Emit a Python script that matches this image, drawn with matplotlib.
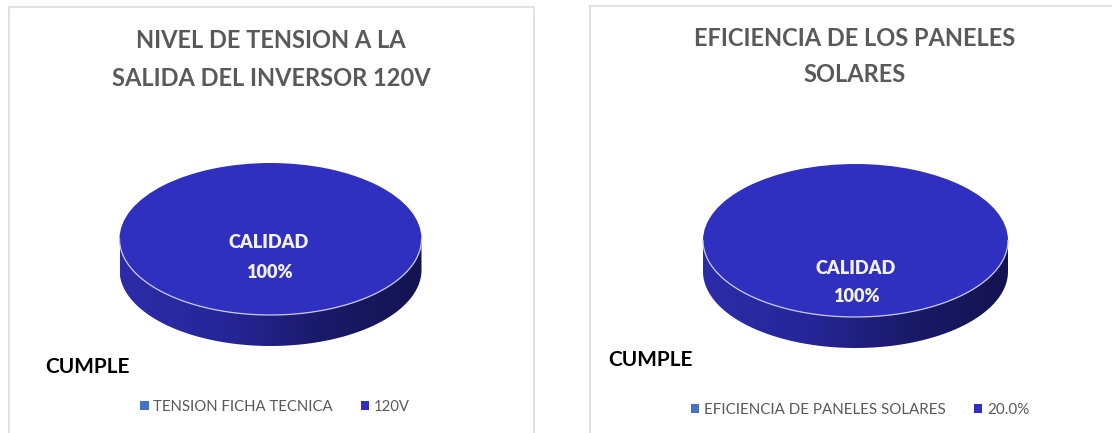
import matplotlib
matplotlib.use("Agg")
import matplotlib.pyplot as plt
import numpy as np
from matplotlib.patches import Rectangle, Polygon

W, H = 1112, 433
plt.rcParams['font.family'] = ['Lato', 'DejaVu Sans']

#data for both pies
titles = ["NIVEL DE TENSION A LA\nSALIDA DEL INVERSOR 120V", "EFICIENCIA DE LOS PANELES\nSOLARES"]
legend_labels = [["TENSION FICHA TECNICA", "120V"], ["EFICIENCIA DE PANELES SOLARES", "20.0%"]]
values = [[0, 100], [0, 100]]
data_labels = ["CALIDAD", "100%"]
note = "CUMPLE"

colors = ["#4472c4", "#3030c0"]

#pixel layout of each panel
panels = [
    dict(box=(9, 7, 534), c=(270.5, 239), r=(151, 76), depth=31, title_x=271, title_y=(41, 78),
         lab_x=269, lab_y=(242, 272), note_xy=(45, 367), leg_y=407, leg_x=275, leg_fs=10.7),
    dict(box=(590, 6, 1125), c=(855.5, 240.5), r=(152.5, 76.5), depth=31, title_x=855, title_y=(39, 74),
         lab_x=856, lab_y=(269, 297), note_xy=(608, 360), leg_y=410, leg_x=860, leg_fs=10.9),
]

fig = plt.figure(figsize=(W / 100, H / 100), dpi=100)


def fx(x):
    return x / W


def fy(y):
    return 1 - y / H


def draw_panel(p, title, labels, vals):
    #panel border
    x0, y0, x1 = p["box"]
    fig.add_artist(Rectangle((fx(x0), fy(H + 5)), fx(x1 - x0), (H + 5 - y0) / H, transform=fig.transFigure,
                             fill=False, ec="#e2e2e2", lw=1.5))

    cx, cy = p["c"]
    rx, ry = p["r"]
    depth = p["depth"]
    #axes box also holds the side of the disc
    ax = fig.add_axes([fx(cx - rx), fy(cy + ry + depth), 2 * rx / W, (2 * ry + depth) / H])
    wedges, _ = ax.pie(vals, colors=colors, radius=1, center=(0, 0),
                       wedgeprops=dict(ec="none"), startangle=90)
    for w in wedges:
        w.set_zorder(3)

    #side of the disc with a horizontal gradient
    d = depth / ry
    t = np.linspace(np.pi, 2 * np.pi, 120)
    xs = np.cos(t)
    ys = np.sin(t)
    side = Polygon(np.r_[np.c_[xs, ys - d], np.c_[xs[::-1], ys[::-1]]], closed=True,
                   transform=ax.transData, fc="none", ec="none")
    ax.add_patch(side)
    cmap = matplotlib.colors.LinearSegmentedColormap.from_list(
        "side", ["#2c2ca8", "#26269a", "#1a1a6a", "#131350"])
    im = ax.imshow(np.linspace(0, 1, 256)[None, :], cmap=cmap, extent=(-1, 1, -1 - d, 0), aspect="auto",
                   zorder=1)
    im.set_clip_path(side)
    ax.plot(xs, ys, color="#c9c9e8", lw=0.9, zorder=4, clip_on=False)
    ax.set_aspect("auto")
    ax.set_xlim(-1, 1)
    ax.set_ylim(-1 - d, 1)
    ax.axis("off")

    #title
    for line, y in zip(title.split("\n"), p["title_y"]):
        fig.text(fx(p["title_x"]), fy(y), line, ha="center", va="center", fontsize=17,
                 fontweight="bold", color="#595959")

    #data label
    for txt, y in zip(data_labels, p["lab_y"]):
        fig.text(fx(p["lab_x"]), fy(y), txt, ha="center", va="center", fontsize=13.1,
                 fontweight="heavy", color="#f2f2f2", zorder=10)

    #note
    fig.text(fx(p["note_xy"][0]), fy(p["note_xy"][1]), note, ha="left", va="center", fontsize=15,
             fontweight="bold", color="black")

    #legend
    fig.legend(wedges, labels, loc="center", bbox_to_anchor=(fx(p["leg_x"]), fy(p["leg_y"])), ncol=2,
               frameon=False, fontsize=p["leg_fs"], labelcolor="#595959", handlelength=0.55, handleheight=0.55,
               handletextpad=0.3, columnspacing=1.9)


for p, title, labels, vals in zip(panels, titles, legend_labels, values):
    draw_panel(p, title, labels, vals)

fig.savefig("out.png", dpi=100)
